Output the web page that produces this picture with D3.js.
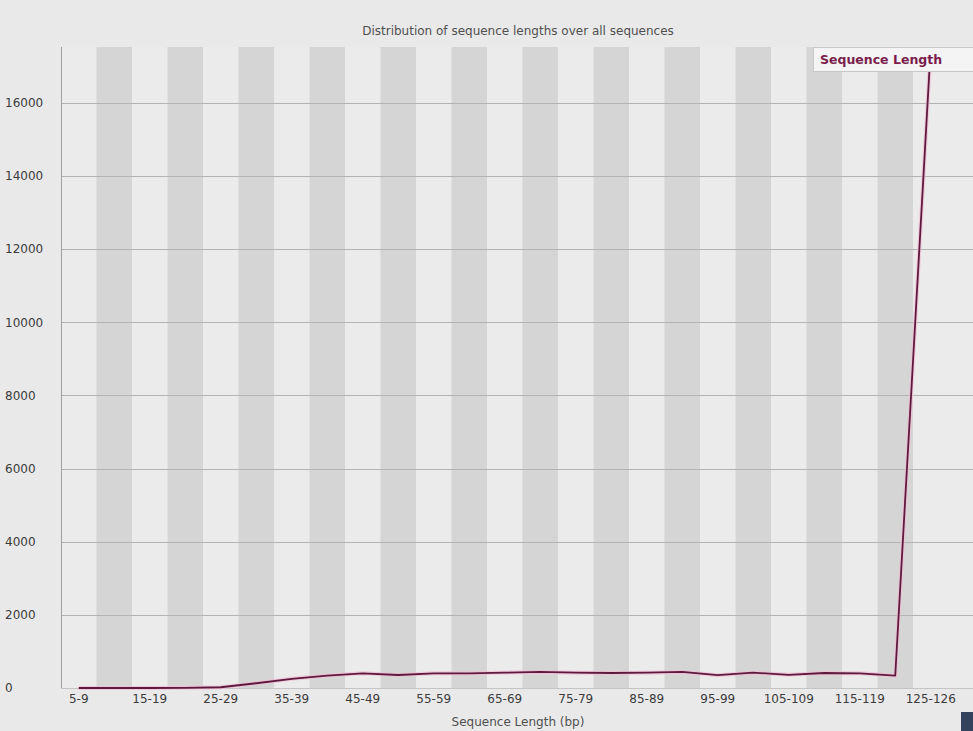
<!DOCTYPE html>
<html>
<head>
<meta charset="utf-8">
<script src="https://cdn.jsdelivr.net/npm/d3@7"></script>
<style>
  html, body { margin: 0; padding: 0; background: #e9e9e9; }
  svg { display: block; }
  text { font-family: "DejaVu Sans", sans-serif; }
</style>
</head>
<body>
<svg id="chart" width="973" height="731"></svg>
<script>
// Read-length bins (bp)
const categories = [
  "5-9", "10-14", "15-19", "20-24", "25-29", "30-34", "35-39", "40-44",
  "45-49", "50-54", "55-59", "60-64", "65-69", "70-74", "75-79", "80-84",
  "85-89", "90-94", "95-99", "100-104", "105-109", "110-114", "115-119",
  "120-124", "125-126"
];
// Number of sequences in each bin
const counts = [
  0, 0, 0, 5, 20, 130, 250, 340, 400, 355, 400, 400, 420, 440, 420, 410,
  420, 440, 350, 420, 360, 410, 400, 340, 17523
];
const yTicks = [0, 2000, 4000, 6000, 8000, 10000, 12000, 14000, 16000];
const seriesName = "Sequence Length";

const svg = d3.select("#chart");
const W = 973, H = 731;
const plotLeft = 61, plotTop = 47, plotBottom = 688;
const bandW = 35.5;
const plotRightData = plotLeft + bandW * categories.length;

svg.append("rect").attr("width", W).attr("height", H).attr("fill", "#e9e9e9");

const x = d3.scaleBand()
  .domain(categories)
  .range([plotLeft, plotRightData])
  .padding(0);

const y = d3.scaleLinear()
  .domain([0, d3.max(counts)])
  .range([plotBottom, plotTop]);

// alternating column shading
svg.append("g").selectAll("rect")
  .data(categories)
  .join("rect")
  .attr("x", d => x(d))
  .attr("y", plotTop)
  .attr("width", x.bandwidth())
  .attr("height", plotBottom - plotTop)
  .attr("fill", (d, i) => i % 2 ? "#d5d5d5" : "#ebebeb");

svg.append("rect")
  .attr("x", plotRightData)
  .attr("y", plotTop)
  .attr("width", W - plotRightData)
  .attr("height", plotBottom - plotTop)
  .attr("fill", "#ebebeb");

// horizontal grid
svg.append("g").selectAll("line")
  .data(yTicks.filter(t => t > 0))
  .join("line")
  .attr("x1", plotLeft).attr("x2", W)
  .attr("y1", d => Math.round(y(d)) + 0.5).attr("y2", d => Math.round(y(d)) + 0.5)
  .attr("stroke", "#b3b3b3").attr("stroke-width", 1);

// axes
svg.append("line").attr("x1", plotLeft + 0.5).attr("x2", plotLeft + 0.5)
  .attr("y1", plotTop).attr("y2", plotBottom)
  .attr("stroke", "#a0a0a0");
svg.append("line").attr("x1", plotLeft).attr("x2", W)
  .attr("y1", plotBottom + 0.5).attr("y2", plotBottom + 0.5)
  .attr("stroke", "#c4c4c4");

const yAxis = svg.append("g")
  .attr("transform", `translate(${plotLeft},0)`)
  .call(d3.axisLeft(y).tickValues(yTicks).tickSize(0).tickFormat(d3.format("d")));
yAxis.select(".domain").remove();
yAxis.selectAll("text")
  .attr("x", -56).attr("text-anchor", "start")
  .attr("fill", "#3c3c3c").style("font-size", "12px");

const xAxis = svg.append("g")
  .attr("transform", `translate(0,${plotBottom})`)
  .call(d3.axisBottom(x).tickValues(categories.filter((d, i) => i % 2 === 0)).tickSize(0));
xAxis.select(".domain").remove();
xAxis.selectAll("text")
  .attr("y", 6).attr("fill", "#3c3c3c").style("font-size", "12px");

// titles
svg.append("text")
  .attr("x", 518).attr("y", 35)
  .attr("text-anchor", "middle")
  .attr("fill", "#505050").style("font-size", "12px")
  .text("Distribution of sequence lengths over all sequences");

svg.append("text")
  .attr("x", 518).attr("y", 726)
  .attr("text-anchor", "middle")
  .attr("fill", "#505050").style("font-size", "12px")
  .text("Sequence Length (bp)");

// series line
const line = d3.line()
  .x((d, i) => x(categories[i]) + x.bandwidth() / 2)
  .y(d => y(d));

svg.append("path")
  .datum(counts)
  .attr("d", line)
  .attr("fill", "none")
  .attr("stroke", "#f2bcd4")
  .attr("stroke-width", 4)
  .attr("stroke-opacity", 0.75);

svg.append("path")
  .datum(counts)
  .attr("d", line)
  .attr("fill", "none")
  .attr("stroke", "#5e1a3c")
  .attr("stroke-width", 1.8)
  .attr("stroke-linejoin", "round");

// legend
const lg = svg.append("g");
lg.append("rect")
  .attr("x", 813.5).attr("y", 47.5).attr("width", 170).attr("height", 24)
  .attr("fill", "#f4f4f4").attr("stroke", "#c8c8c8");
lg.append("text")
  .attr("x", 820).attr("y", 64)
  .attr("fill", "#7a1d4c")
  .style("font-size", "12.5px").style("font-weight", "bold")
  .text(seriesName);

// corner widget
svg.append("rect")
  .attr("x", 961).attr("y", 712).attr("width", 12).attr("height", 19)
  .attr("fill", "#34425e");
</script>
</body>
</html>
